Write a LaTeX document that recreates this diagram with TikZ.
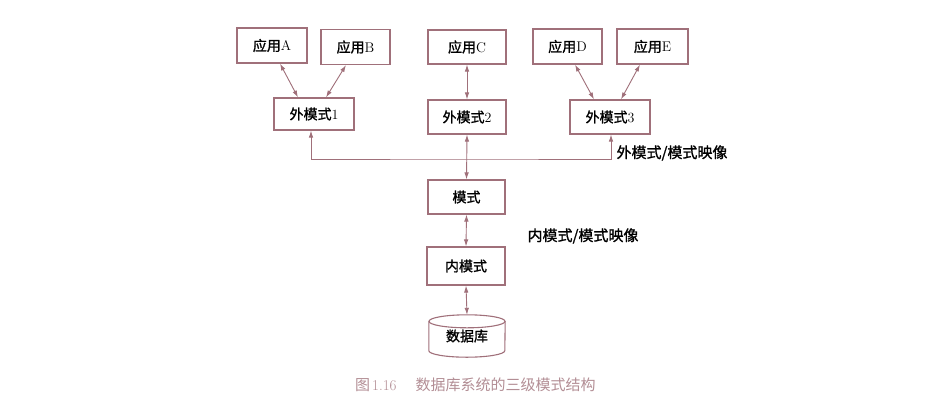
\documentclass[tikz,border=0pt]{standalone}
\usepackage{fontspec}
\newfontfamily\cjk{Noto Sans CJK SC}[RawFeature={embolden=1.2}]
\newfontfamily\cjkcap{Noto Sans CJK SC}
\usetikzlibrary{arrows.meta,calc}
\definecolor{boxc}{HTML}{A0707A}
\definecolor{capc}{HTML}{B38E95}
\begin{document}
\begin{tikzpicture}[x=1pt,y=-1pt,
  box/.style={draw=boxc,line width=1.1pt,inner sep=0pt,minimum height=34pt,font=\fontsize{14}{14}\selectfont},
  link/.style={draw=boxc,line width=0.9pt,{Latex[length=7pt,width=4.5pt]}-{Latex[length=7pt,width=4.5pt]}},
  lbl/.style={inner sep=0pt,font=\fontsize{15}{15}\selectfont}]
\fill[white] (0,0) rectangle (941,416);
\useasboundingbox (0,0) rectangle (941,416);
% applications
\node[box,minimum width=70pt,minimum height=35pt] (A) at (272,45.5) {{\cjk 应用}A};
\node[box,minimum width=69pt,minimum height=35pt] (B) at (355.5,47) {{\cjk 应用}B};
\node[box,minimum width=78pt,minimum height=34pt] (C) at (467,47) {{\cjk 应用}C};
\node[box,minimum width=69pt,minimum height=35pt] (D) at (567.5,46.5) {{\cjk 应用}D};
\node[box,minimum width=71pt,minimum height=35pt] (E) at (652.5,46.5) {{\cjk 应用}E};
% external schemas
\node[box,minimum width=80pt,minimum height=32pt] (E1) at (314,114) {{\cjk 外模式}1};
\node[box,minimum width=78pt] (E2) at (467,117) {{\cjk 外模式}2};
\node[box,minimum width=80pt] (E3) at (610,117) {{\cjk 外模式}3};
% schema, internal schema
\node[box,minimum width=77pt] (M) at (466.5,197) {\cjk 模式};
\node[box,minimum width=78pt,minimum height=38pt] (I) at (466,266) {\cjk 内模式};
% database cylinder
\node[inner sep=0pt,minimum width=76pt,minimum height=29pt,font=\fontsize{14}{14}\selectfont] (DB) at (467,336) {\raisebox{-3pt}{\cjk 数据库}};
\draw[boxc,line width=1.1pt] (DB.north west) -- (DB.south west)
  arc[start angle=180,end angle=360,x radius=38pt,y radius=6.5pt] -- (DB.north east);
\draw[boxc,line width=1.1pt] (DB.north) ellipse [x radius=38pt,y radius=6.5pt];
% connectors
\draw[link] ([xshift=8pt]A.south) -- ([xshift=-16pt]E1.north);
\draw[link] ([xshift=-9.5pt]B.south) -- ([xshift=12pt]E1.north);
\draw[link] (C.south) -- (E2.north);
\draw[link] ([xshift=7.5pt]D.south) -- ([xshift=-16pt]E3.north);
\draw[link] ([xshift=-12.5pt]E.south) -- ([xshift=11pt]E3.north);
\coordinate (J) at (467,159);
\draw[link] ([xshift=-3pt]E1.south) |- (J) -| ([xshift=1pt]E3.south);
\draw[link] (E2.south) -- (M.north);
\draw[link] (M.south) -- (I.north);
\draw[link] (I.south) -- ([yshift=6.5pt]DB.north);
% mapping labels
\node[lbl] (L1) at (672,153) {\cjk 外模式/模式映像};
\node[lbl] (L2) at (583,236) {\cjk 内模式/模式映像};
% caption
\node[inner sep=0pt,anchor=west,text=capc,font=\fontsize{15}{15}\selectfont] (cap) at (355,385)
  {{\cjkcap 图}\hspace{2pt}1.16\hspace{19pt}{\cjkcap 数据库系统的三级模式结构}};
\end{tikzpicture}
\end{document}
